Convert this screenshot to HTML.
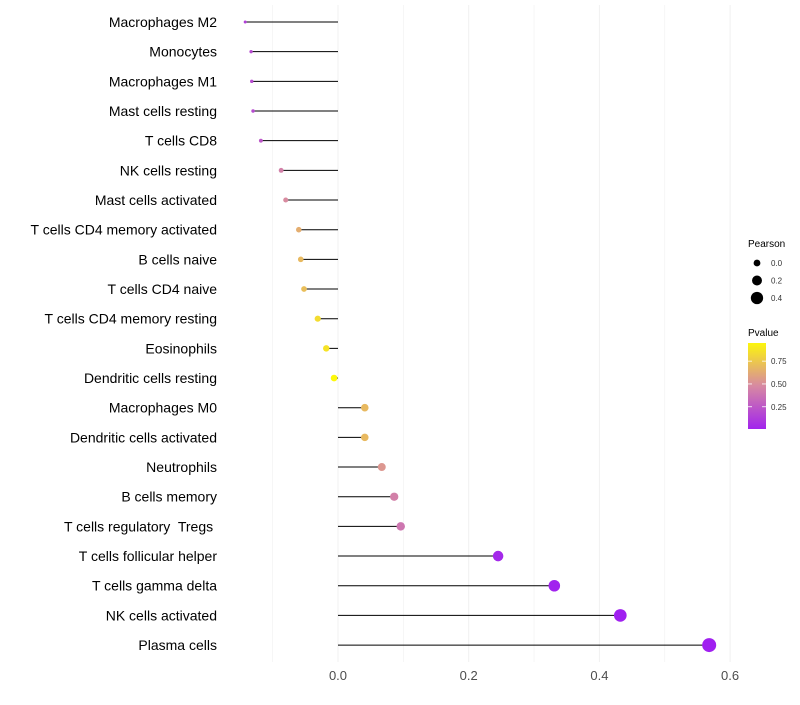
<!DOCTYPE html>
<html><head><meta charset="utf-8"><style>
body{margin:0;background:#fff;font-family:"Liberation Sans",sans-serif}
text{white-space:pre}
</style></head><body>
<svg id="c" width="800" height="700"></svg>
<script>
const categories=["Macrophages M2","Monocytes","Macrophages M1","Mast cells resting","T cells CD8","NK cells resting","Mast cells activated","T cells CD4 memory activated","B cells naive","T cells CD4 naive","T cells CD4 memory resting","Eosinophils","Dendritic cells resting","Macrophages M0","Dendritic cells activated","Neutrophils","B cells memory","T cells regulatory  Tregs ","T cells follicular helper","T cells gamma delta","NK cells activated","Plasma cells"];
const pearson=[-0.142,-0.133,-0.132,-0.130,-0.118,-0.087,-0.080,-0.060,-0.057,-0.052,-0.031,-0.018,-0.006,0.041,0.041,0.067,0.086,0.096,0.245,0.331,0.432,0.568];
const pvalue=[0.15,0.2,0.2,0.2,0.25,0.45,0.5,0.65,0.7,0.72,0.85,0.88,0.97,0.7,0.7,0.55,0.45,0.4,0.04,0.01,0.002,0.0005];
const xTicks=[0,0.2,0.4,0.6];
const pearsonLegend=[0.0,0.2,0.4];
const pLegend=[0.25,0.5,0.75];
const NS="http://www.w3.org/2000/svg";
const svg=document.getElementById('c');
function mk(t,a){const e=document.createElementNS(NS,t);for(const k in a)e.setAttribute(k,a[k]);svg.appendChild(e);return e;}
const x=v=>338+v*653.5;
const y=i=>22+i*29.67;
const r=v=>Math.sqrt(Math.max(1,11.6+65.8*v));
function lerp(a,b,t){return a.map((c,i)=>Math.round(c+(b[i]-c)*t));}
function col(p){const s0=[160,32,240],s1=[216,139,160],s2=[255,255,0];
 const c=p<0.5?lerp(s0,s1,p/0.5):lerp(s1,s2,(p-0.5)/0.5);return `rgb(${c})`;}
for(let v=-0.1;v<=0.65;v+=0.1){const g=mk('line',{x1:x(v),x2:x(v),y1:5,y2:662,stroke:'#f0f0f0','stroke-width':Math.abs(Math.round(v*10)%2)===0?1:0.6});
}
xTicks.forEach(t=>{const e=mk('text',{x:x(t),y:680,'text-anchor':'middle','font-size':13,fill:'#4d4d4d'});e.textContent=t.toFixed(1);
});
categories.forEach((c,i)=>{
 const l=mk('text',{x:217,y:y(i)+5,'text-anchor':'end','font-size':14,fill:'#000'});l.textContent=c;
 
 const s=mk('line',{x1:x(0),x2:x(pearson[i]),y1:y(i),y2:y(i),stroke:'#000','stroke-width':1});
 
 const d=mk('circle',{cx:x(pearson[i]),cy:y(i),r:r(pearson[i]),fill:col(pvalue[i])});
 
});
let t=mk('text',{x:748,y:247,'font-size':10,fill:'#000'});t.textContent='Pearson';

pearsonLegend.forEach((v,i)=>{const cy=263+i*17.5;
 const c=mk('circle',{cx:757,cy:cy,r:r(v),fill:'#000'});
 const l=mk('text',{x:771,y:cy+3,'font-size':8,fill:'#333'});l.textContent=v.toFixed(1);
 });
t=mk('text',{x:748,y:336,'font-size':10,fill:'#000'});t.textContent='Pvalue';

const defs=mk('defs',{});const gr=document.createElementNS(NS,'linearGradient');
gr.setAttribute('id','pg');gr.setAttribute('x1','0');gr.setAttribute('y1','1');gr.setAttribute('x2','0');gr.setAttribute('y2','0');defs.appendChild(gr);
[0,0.25,0.5,0.75,1].forEach(o=>{const s=document.createElementNS(NS,'stop');const p=0.017+o*(0.96-0.017);s.setAttribute('offset',o);s.setAttribute('stop-color',col(p));gr.appendChild(s);});
const bar=mk('rect',{x:748,y:343,width:18,height:86,fill:'url(#pg)'});

pLegend.forEach(v=>{const yy=428-(v-0.017)/(0.96-0.017)*86;
 mk('line',{x1:748,x2:752,y1:yy,y2:yy,stroke:'#fff','stroke-width':0.8});mk('line',{x1:762,x2:766,y1:yy,y2:yy,stroke:'#fff','stroke-width':0.8});
 const l=mk('text',{x:771,y:yy+3,'font-size':8,fill:'#333'});l.textContent=v.toFixed(2);
 });
</script>
</body></html>
